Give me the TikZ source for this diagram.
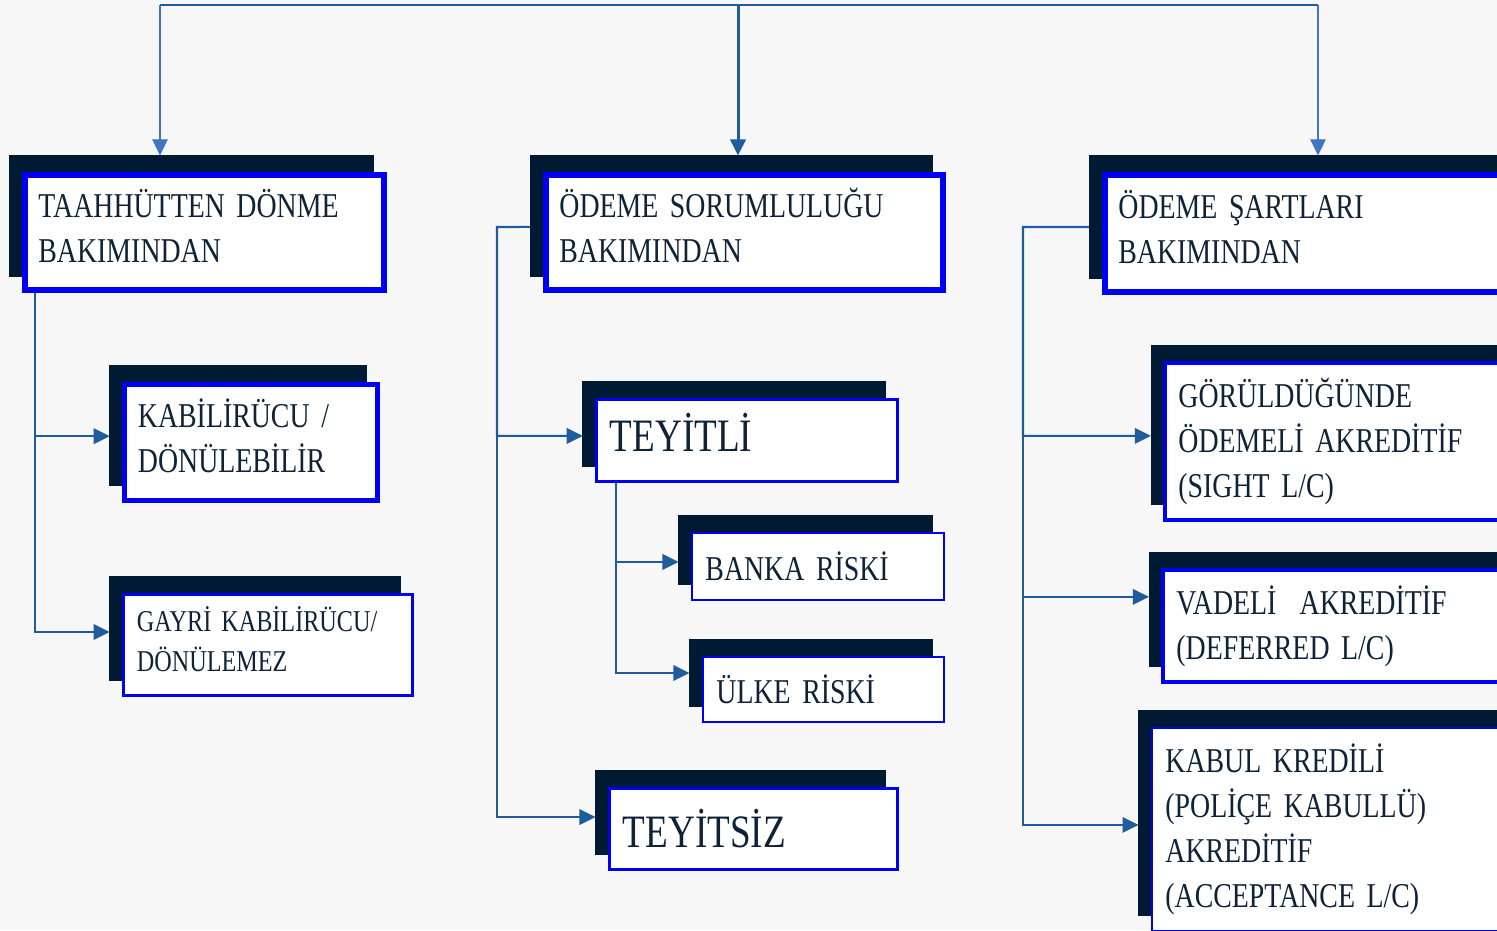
\documentclass[tikz,border=0pt]{standalone}
\usepackage{fontspec}
\setmainfont[FakeStretch=0.8]{Liberation Serif}
\usepackage{tikz}
\usetikzlibrary{arrows.meta,shadows,backgrounds}
\definecolor{boxblue}{HTML}{0000F2}
\definecolor{navy}{HTML}{001A33}
\definecolor{ink}{HTML}{0E2238}
\definecolor{linkblue}{HTML}{1F5C9C}
\definecolor{lightlink}{HTML}{4472C4}
\definecolor{paper}{HTML}{F7F7F7}
\newcommand{\boxfont}{\fontsize{9.9pt}{12.8pt}\selectfont\spaceskip=0.15em}
\newcommand{\smallboxfont}{\fontsize{8.6pt}{11.4pt}\selectfont\spaceskip=0.15em}
\newcommand{\bigboxfont}{\fontsize{13.2pt}{15pt}\selectfont}
\tikzset{>={Triangle[length=4.6pt,width=4.4pt]}}

\begin{document}
\begin{tikzpicture}[x=0.01cm, y=-0.01cm,
    box/.style={draw=boxblue, fill=white, text=ink, align=left,
      inner xsep=3.8pt, inner ysep=0pt, font=\boxfont,
      general shadow={fill=navy, draw=navy, shadow xshift=-3.6pt, shadow yshift=4.7pt}},
    conn/.style={linkblue, line width=0.6pt},
    arr/.style={conn, ->, shorten >=3.5pt},
    drop/.style={lightlink, line width=0.4pt, ->, shorten >=4.7pt}]
    \useasboundingbox (0,0) rectangle (1497,930);
    \clip (0,0) rectangle (1497,930);

    % 1. Top row
    \node[box, line width=1.7pt, text width=3.32cm, minimum height=1.15cm] (taah) at (204.5,232.5) {TAAHHÜTTEN DÖNME\\BAKIMINDAN\strut};
    \node[box, line width=1.7pt, text width=3.70cm, minimum height=1.15cm] (odsor) at (744.5,232.5) {ÖDEME SORUMLULUĞU\\BAKIMINDAN\strut};
    \node[box, line width=1.7pt, text width=3.78cm, minimum height=1.17cm] (odsart) at (1307.5,233.5) {ÖDEME ŞARTLARI\\BAKIMINDAN\strut};

    % 2. Left column
    \node[box, line width=1.4pt, text width=2.26cm, minimum height=1.16cm] (kabil) at (251,442.5) {KABİLİRÜCU /\\DÖNÜLEBİLİR\strut};
    \node[box, line width=0.85pt, text width=2.62cm, minimum height=1.01cm, font=\smallboxfont] (gayri) at (268,645) {GAYRİ KABİLİRÜCU/\\DÖNÜLEMEZ\strut};

    % 3. Middle column
    \node[box, line width=0.85pt, text width=2.74cm, minimum height=0.82cm, font=\bigboxfont] (teyitli) at (747,440.5) {TEYİTLİ\strut};
    \node[box, line width=0.7pt, text width=2.25cm, minimum height=0.67cm] (banka) at (818,566.5) {BANKA RİSKİ};
    \node[box, line width=0.7pt, text width=2.14cm, minimum height=0.65cm] (ulke) at (823.5,689.5) {ÜLKE RİSKİ};
    \node[box, line width=0.95pt, text width=2.61cm, minimum height=0.81cm, font=\bigboxfont] (teyitsiz) at (753.5,829) {TEYİTSİZ};

    % 4. Right column
    \node[box, line width=1pt, text width=3.18cm, minimum height=1.57cm] (gorul) at (1337.5,441.5) {GÖRÜLDÜĞÜNDE\\ÖDEMELİ AKREDİTİF\\(SIGHT L/C)};
    \node[box, line width=1pt, text width=3.20cm, minimum height=1.12cm] (vadeli) at (1336.5,626) {VADELİ\ \ AKREDİTİF\\(DEFERRED L/C)};
    \node[box, line width=0.6pt, text width=3.31cm, minimum height=2.03cm] (kabul) at (1331,829.5) {KABUL KREDİLİ\\(POLİÇE KABULLÜ)\\AKREDİTİF\\(ACCEPTANCE L/C)};

    % 5. Connectors, behind the boxes
    \coordinate (busL) at (160,5);
    \coordinate (busM) at (738,5);
    \coordinate (busR) at (1318,5);
    \coordinate (tL) at (35,0);
    \coordinate (tM) at (497,227);
    \coordinate (tT) at (616,0);
    \coordinate (tR) at (1023,227);
    \begin{scope}[on background layer]
      \fill[paper] (0,0) rectangle (1497,930);
      \draw[conn] (busL) -- (busR);
      \draw[drop] (busL) -- (busL |- taah.north);
      \draw[drop, linkblue, line width=0.85pt] (busM) -- (busM |- odsor.north);
      \draw[drop] (busR) -- (busR |- odsart.north);

      \draw[arr] (taah.south -| tL) |- ([yshift=1.8pt]kabil.west);
      \draw[arr] (taah.south -| tL) |- ([yshift=3.7pt]gayri.west);

      \draw[arr] ([yshift=1.6pt]odsor.west) -- (tM) |- ([yshift=1.3pt]teyitli.west);
      \draw[arr] (tM) |- ([yshift=3.4pt]teyitsiz.west);
      \draw[arr] (teyitli.south -| tT) |- ([yshift=1.3pt]banka.west);
      \draw[arr] (teyitli.south -| tT) |- ([yshift=4.7pt]ulke.west);

      \draw[arr] ([yshift=1.85pt]odsart.west) -- (tR) |- ([yshift=1.6pt]gorul.west);
      \draw[arr] (tR) |- ([yshift=8.3pt]vadeli.west);
      \draw[arr] (tR) |- ([yshift=1.3pt]kabul.west);
    \end{scope}
\end{tikzpicture}
\end{document}
